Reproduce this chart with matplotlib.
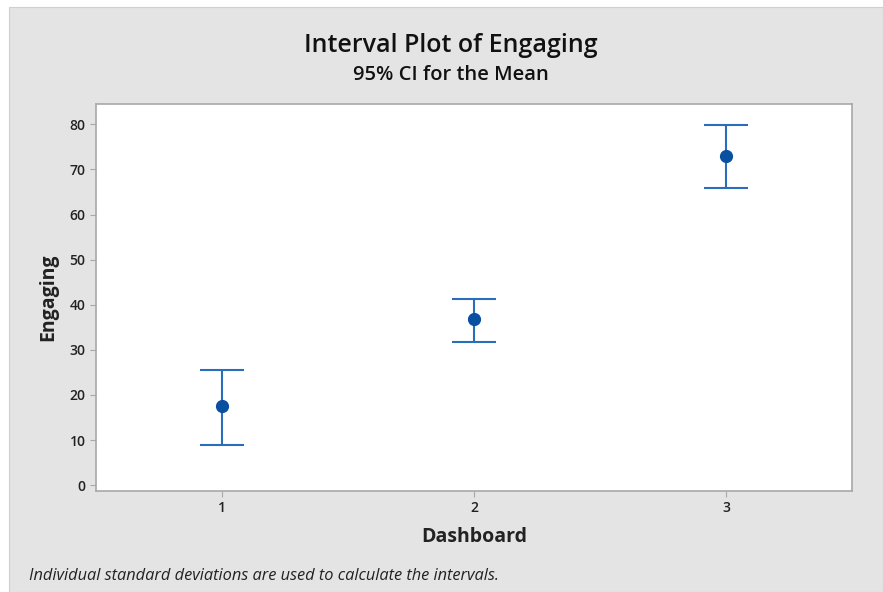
import matplotlib.pyplot as plt
from matplotlib.patches import Rectangle

# interval plot: group means with 95% CI bounds
dashboards = [1, 2, 3]
means = [17.5, 36.8, 72.9]
ci_low = [8.9, 31.7, 65.9]
ci_high = [25.5, 41.2, 79.8]
y_ticks = [0, 10, 20, 30, 40, 50, 60, 70, 80]

line_col = '#2a6ebb'
dot_col = '#0a50a0'
panel_col = '#e4e4e4'

plt.rcParams['font.family'] = ['Open Sans', 'DejaVu Sans']

fig = plt.figure(figsize=(8.83, 5.92), dpi=100, facecolor='white')
W, H = 883, 592

# gray background panel, with a thin white margin top/left
fig.patches.append(Rectangle((9 / W, 0), 1 - 9 / W, 1 - 7 / H,
                             transform=fig.transFigure, facecolor=panel_col,
                             edgecolor='#d0d0d0', linewidth=0.8, zorder=-10))

ax = fig.add_axes([96 / W, 1 - 491 / H, (852 - 96) / W, (491 - 104) / H])
ax.set_facecolor('white')

for x, m, lo, hi in zip(dashboards, means, ci_low, ci_high):
    ax.errorbar(x, m, yerr=[[m - lo], [hi - m]], fmt='none', ecolor=line_col,
                elinewidth=1.5, capsize=16, capthick=1.5)
    ax.plot(x, m, 'o', color=dot_col, markersize=8.5, zorder=3)

ax.set_xlim(0.5, 3.5)
ax.set_ylim(-1.3, 84.5)
ax.set_xticks(dashboards)
ax.set_yticks(y_ticks)

for s in ax.spines.values():
    s.set_color('#a8a8a8')
    s.set_linewidth(1.2)
ax.tick_params(colors='#a8a8a8', labelcolor='#222222', labelsize=10, length=4)
for lab in ax.get_xticklabels() + ax.get_yticklabels():
    lab.set_fontweight('semibold')

ax.set_xlabel('Dashboard', fontsize=14, fontweight='bold', color='#222222', labelpad=8)
ax.set_ylabel('Engaging', fontsize=14, fontweight='bold', color='#222222', labelpad=8)

fig.text(451 / W, 1 - 46 / H, 'Interval Plot of Engaging', ha='center', va='center',
         fontsize=18, fontweight='semibold', color='#111111')
fig.text(451 / W, 1 - 75 / H, '95% CI for the Mean', ha='center', va='center',
         fontsize=14.5, fontweight='semibold', color='#111111')
fig.text(29 / W, 1 - 576 / H,
         'Individual standard deviations are used to calculate the intervals.',
         ha='left', va='center', fontsize=11.8, style='italic', color='#222222')

fig.savefig('out.png', dpi=100, facecolor=fig.get_facecolor())
